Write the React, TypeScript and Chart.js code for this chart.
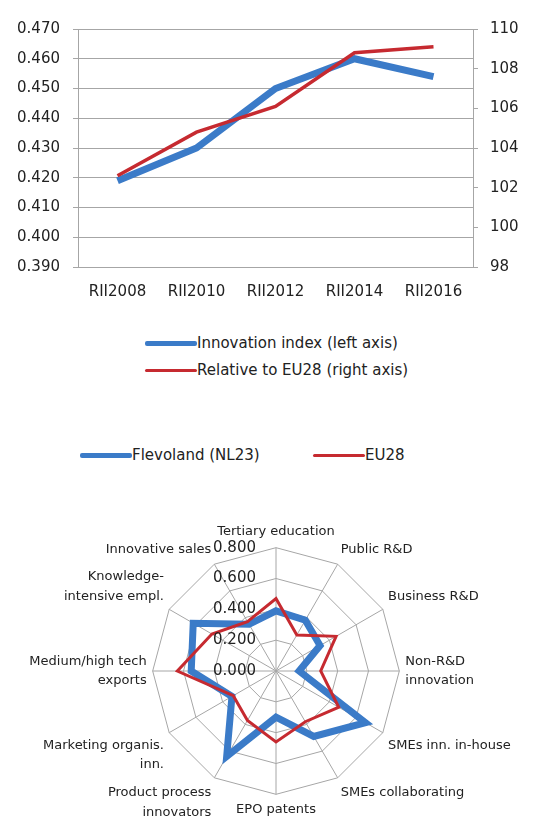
import React, { useEffect, useRef } from "react";
import { Chart, registerables } from "chart.js";

Chart.register(...registerables);

// ---- Line chart data ----
const rounds = ["RII2008", "RII2010", "RII2012", "RII2014", "RII2016"];
const innovationIndex = [0.419, 0.43, 0.45, 0.46, 0.454];
const relativeToEU28 = [102.6, 104.8, 106.1, 108.8, 109.1];

// ---- Radar chart data ----
const dimensions = [
  ["Tertiary education"],
  ["Public R&D"],
  ["Business R&D"],
  ["Non-R&D", "innovation"],
  ["SMEs inn. in-house"],
  ["SMEs collaborating"],
  ["EPO patents"],
  ["Product process", "innovators"],
  ["Marketing organis.", "inn."],
  ["Medium/high tech", "exports"],
  ["Knowledge-", "intensive empl."],
  ["Innovative sales"],
];
const flevoland = [0.39, 0.38, 0.33, 0.15, 0.67, 0.49, 0.3, 0.64, 0.33, 0.55, 0.62, 0.35];
const eu28 = [0.47, 0.27, 0.45, 0.29, 0.47, 0.38, 0.46, 0.37, 0.32, 0.64, 0.48, 0.37];

const BLUE = "#3b7bc8";
const RED = "#c62a30";
const GRID = "#a6a6a6";
const TEXT = "#222222";
const FAMILY = '"DejaVu Sans", sans-serif';

const radarTickPlugin = {
  id: "radarTicks",
  afterDatasetsDraw(chart: any) {
    const scale = chart.scales.r;
    const ctx = chart.ctx;
    ctx.save();
    ctx.font = `15px ${FAMILY}`;
    ctx.fillStyle = TEXT;
    ctx.textAlign = "right";
    ctx.textBaseline = "middle";
    scale.ticks.forEach((t: any) => {
      const d = scale.getDistanceFromCenterForValue(t.value);
      ctx.fillText(Number(t.value).toFixed(3), scale.xCenter - 20, scale.yCenter - d);
    });
    ctx.restore();
  },
};

function LineChart() {
  const ref = useRef<HTMLCanvasElement>(null);
  useEffect(() => {
    const chart = new Chart(ref.current as HTMLCanvasElement, {
      type: "line",
      data: {
        labels: rounds,
        datasets: [
          {
            label: "Innovation index (left axis)",
            data: innovationIndex,
            borderColor: BLUE,
            borderWidth: 7,
            yAxisID: "y",
            pointRadius: 0,
            tension: 0,
            order: 1,
          },
          {
            label: "Relative to EU28 (right axis)",
            data: relativeToEU28,
            borderColor: RED,
            borderWidth: 3.5,
            yAxisID: "y1",
            pointRadius: 0,
            tension: 0,
            order: 0,
          },
        ],
      },
      options: {
        responsive: false,
        animation: false,
        layout: { padding: { top: 29, left: 0, right: 0, bottom: 0 } },
        plugins: { legend: { display: false }, tooltip: { enabled: false } },
        scales: {
          x: {
            offset: true,
            grid: { display: false, drawTicks: false },
            border: { color: GRID },
            ticks: { padding: 16, color: TEXT, font: { family: FAMILY, size: 15 } },
            afterFit: (s: any) => {
              s.height = 43;
            },
          },
          y: {
            position: "left",
            min: 0.39,
            max: 0.47,
            ticks: {
              stepSize: 0.01,
              padding: 13,
              color: TEXT,
              font: { family: FAMILY, size: 15 },
              callback: (v: any) => Number(v).toFixed(3),
            },
            grid: { color: GRID, tickLength: 5 },
            border: { color: GRID },
            afterFit: (s: any) => {
              s.width = 78;
            },
          },
          y1: {
            position: "right",
            min: 98,
            max: 110,
            ticks: { stepSize: 2, padding: 12, color: TEXT, font: { family: FAMILY, size: 15 } },
            grid: { drawOnChartArea: false, color: GRID, tickLength: 5 },
            border: { color: GRID },
            afterFit: (s: any) => {
              s.width = 62;
            },
          },
        },
      },
    } as any);
    return () => chart.destroy();
  }, []);
  return (
    <canvas
      ref={ref}
      width={535}
      height={310}
      style={{ position: "absolute", left: 0, top: 0, width: 535, height: 310, display: "block" }}
    />
  );
}

function RadarChart() {
  const ref = useRef<HTMLCanvasElement>(null);
  useEffect(() => {
    const chart = new Chart(ref.current as HTMLCanvasElement, {
      type: "radar",
      data: {
        labels: dimensions,
        datasets: [
          {
            label: "Flevoland (NL23)",
            data: flevoland,
            borderColor: BLUE,
            backgroundColor: "transparent",
            borderWidth: 7,
            fill: false,
            pointRadius: 0,
            order: 1,
          },
          {
            label: "EU28",
            data: eu28,
            borderColor: RED,
            backgroundColor: "transparent",
            borderWidth: 3,
            fill: false,
            pointRadius: 0,
            order: 0,
          },
        ],
      },
      options: {
        responsive: false,
        animation: false,
        layout: { padding: { top: 52, bottom: 6, left: 0, right: 0 } },
        plugins: { legend: { display: false }, tooltip: { enabled: false } },
        scales: {
          r: {
            min: 0,
            max: 0.8,
            ticks: { stepSize: 0.2, display: false },
            grid: { color: GRID, lineWidth: 1 },
            angleLines: { color: GRID, lineWidth: 1 },
            pointLabels: {
              padding: 6,
              color: TEXT,
              font: { family: FAMILY, size: 13, lineHeight: 1.5 },
            },
          },
        },
      },
      plugins: [radarTickPlugin],
    } as any);
    return () => chart.destroy();
  }, []);
  return (
    <canvas
      ref={ref}
      width={552}
      height={360}
      style={{ position: "absolute", left: 0, top: 470, width: 552, height: 360, display: "block" }}
    />
  );
}

function LegendItem(props: { left: number; top: number; color: string; thickness: number; label: string }) {
  return (
    <div
      style={{
        position: "absolute",
        left: props.left,
        top: props.top - 10,
        height: 20,
        display: "flex",
        alignItems: "center",
        whiteSpace: "nowrap",
        fontFamily: FAMILY,
        fontSize: 15,
        color: TEXT,
      }}
    >
      <div style={{ width: 52, height: props.thickness, background: props.color, borderRadius: 2 }} />
      <span>{props.label}</span>
    </div>
  );
}

export default function App() {
  return (
    <div
      style={{
        position: "absolute",
        left: 0,
        top: 0,
        width: 535,
        height: 819,
        overflow: "hidden",
        background: "#ffffff",
      }}
    >
      <LineChart />
      <LegendItem left={145} top={343} color={BLUE} thickness={5} label="Innovation index (left axis)" />
      <LegendItem left={145} top={370} color={RED} thickness={3} label="Relative to EU28 (right axis)" />
      <LegendItem left={80} top={455} color={BLUE} thickness={5} label="Flevoland (NL23)" />
      <LegendItem left={313} top={455} color={RED} thickness={3} label="EU28" />
      <RadarChart />
    </div>
  );
}
